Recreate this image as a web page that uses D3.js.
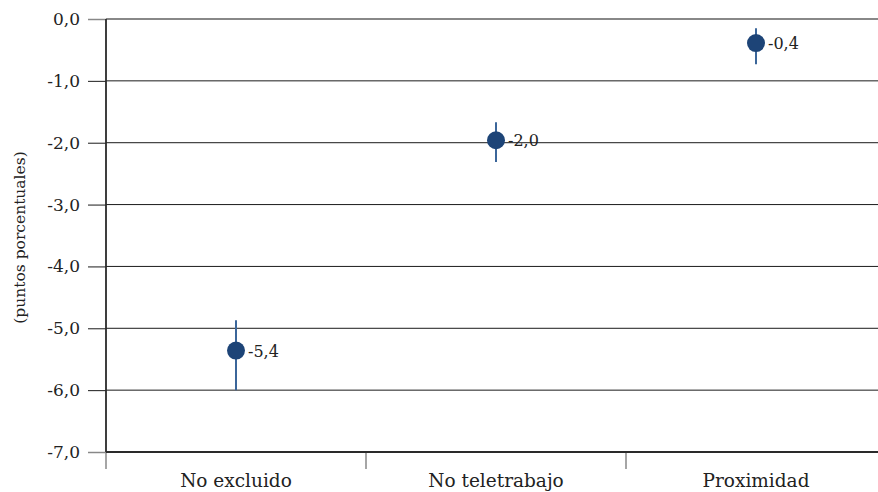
<!DOCTYPE html>
<html><head><meta charset="utf-8">
<script src="https://cdn.jsdelivr.net/npm/d3@7"></script>
<style>body{margin:0;background:#fff}svg{display:block}</style>
</head><body>
<svg id="c" width="878" height="492"></svg>
<script>
const categories = ["No excluido", "No teletrabajo", "Proximidad"];
const values = [-5.36, -1.96, -0.39];
const lower = [-6.0, -2.31, -0.73];
const upper = [-4.87, -1.67, -0.15];
const yTicks = [0, -1, -2, -3, -4, -5, -6, -7];

const svg = d3.select("#c");
const font = "'DejaVu Serif', serif";
const m = {left:106, top:19, bottom:452, right:886};
const x = d3.scaleBand().domain(categories).range([m.left, m.right]);
const y = d3.scaleLinear().domain([-7, 0]).range([m.bottom, m.top]);
const fmt = v => d3.format(".1f")(v).replace(".", ",").replace("−","-");

// gridlines
svg.append("g").selectAll("line").data(yTicks.filter(t => t !== 0 && t !== -7)).join("line")
  .attr("x1", m.left).attr("x2", 878).attr("y1", d => y(d)).attr("y2", d => y(d))
  .attr("stroke", "#1a1a1a").attr("stroke-width", 1);
// top line
svg.append("line").attr("x1", m.left).attr("x2", 878).attr("y1", y(0)).attr("y2", y(0))
  .attr("stroke", "#888").attr("stroke-width", 2);

// y axis
const ya = svg.append("g").attr("transform", `translate(${m.left},0)`)
  .call(d3.axisLeft(y).tickValues(yTicks).tickFormat(fmt).tickSize(18).tickPadding(8));
ya.select(".domain").remove();
ya.selectAll(".tick line").attr("stroke", "#888").attr("stroke-width", 1.5);
ya.selectAll(".tick text").attr("font-family", font).attr("font-size", 17).attr("fill", "#222");
ya.selectAll(".tick").filter(d => d !== 0 && d !== -7).select("line").attr("stroke", "#1a1a1a").attr("stroke-width", 1);

// x axis
const xa = svg.append("g").attr("transform", `translate(0,${m.bottom})`)
  .call(d3.axisBottom(x).tickSize(0).tickPadding(22));
xa.select(".domain").remove();
xa.selectAll(".tick text").attr("font-family", font).attr("font-size", 18.5).attr("fill", "#222");
svg.append("g").selectAll("line").data(categories).join("line")
  .attr("x1", d => x(d)).attr("x2", d => x(d)).attr("y1", m.bottom).attr("y2", m.bottom + 17)
  .attr("stroke", "#888").attr("stroke-width", 1.5);

// bottom axis line
svg.append("line").attr("x1", m.left).attr("x2", 878).attr("y1", y(-7)).attr("y2", y(-7))
  .attr("stroke", "#2a2a2a").attr("stroke-width", 1.8);
// vertical axis line
svg.append("line").attr("x1", m.left).attr("x2", m.left).attr("y1", y(0)).attr("y2", y(-7))
  .attr("stroke", "#2a2a2a").attr("stroke-width", 1.8);

// y title
svg.append("text").attr("transform", `translate(25,${(m.top + m.bottom)/2 + 2}) rotate(-90)`)
  .attr("text-anchor", "middle").attr("font-family", font).attr("font-size", 15.5).attr("fill", "#222")
  .text("(puntos porcentuales)");

// error bars & points
const cx = d => x(d) + x.bandwidth()/2;
const g = svg.append("g");
g.selectAll(".err").data(categories).join("line")
  .attr("x1", cx).attr("x2", cx)
  .attr("y1", (d,i) => y(upper[i])).attr("y2", (d,i) => y(lower[i]))
  .attr("stroke", "#3b669a").attr("stroke-width", 2);
g.selectAll("circle").data(categories).join("circle")
  .attr("cx", cx).attr("cy", (d,i) => y(values[i])).attr("r", 9)
  .attr("fill", "#1d4477");
g.selectAll(".lbl").data(categories).join("text")
  .attr("x", d => cx(d) + 12).attr("y", (d,i) => y(values[i]) + 6)
  .attr("font-family", font).attr("font-size", 16).attr("fill", "#222")
  .text((d,i) => fmt(values[i]));
</script>
</body></html>
